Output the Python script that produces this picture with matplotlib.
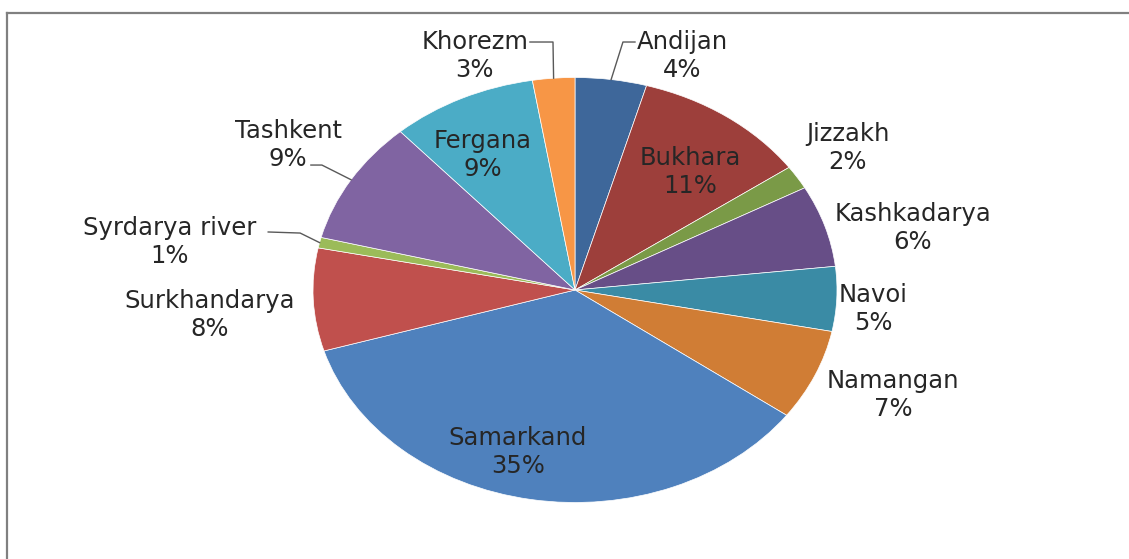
import numpy as np
import matplotlib.pyplot as plt
from matplotlib.lines import Line2D

# Дані: регіони та їх частки (%)
regions = ["Andijan", "Bukhara", "Jizzakh", "Kashkadarya", "Navoi", "Namangan",
           "Samarkand", "Surkhandarya", "Syrdarya river", "Tashkent", "Fergana", "Khorezm"]
shares = [4.4, 10.8, 1.8, 6.2, 4.9, 6.9, 35.3, 7.8, 0.8, 9.4, 9.0, 2.6]
colors = ["#3E679A", "#9D3F3B", "#7A9A47", "#674E87", "#3A8BA5", "#D07D35",
          "#4F81BD", "#C0504D", "#9BBB59", "#8064A2", "#4BACC6", "#F79646"]

# Розміщення підписів (в одиницях радіуса еліпса)
label_xy = [(0.41, 1.10), (0.44, 0.555), (1.04, 0.67), (1.29, 0.29), (1.137, -0.09),
            (1.214, -0.494), (-0.218, -0.762), (-1.393, -0.118), (-1.546, 0.226),
            (-1.095, 0.682), (-0.351, 0.635), (-0.382, 1.10)]
# Виноски: індекс сектора -> точки ламаної від тексту до краю
leaders = {0: [(0.229, 1.167), (0.183, 1.167)],
           11: [(-0.172, 1.167), (-0.084, 1.167)],
           9: [(-1.008, 0.588), (-0.966, 0.588)],
           8: [(-1.171, 0.273), (-1.049, 0.268)]}

W, H = 1129, 559
cx, cy, rx, ry = 575, 290, 262, 212.5

fig = plt.figure(figsize=(W / 100, H / 100), dpi=100)
ax = fig.add_axes([0, 0, 1, 1])

wedges, _ = ax.pie(shares, colors=colors, startangle=90, counterclock=False,
                   wedgeprops=dict(edgecolor="white", linewidth=0.5))
ax.set_aspect("auto")
ax.set_xlim(-cx / rx, (W - cx) / rx)
ax.set_ylim((cy - H) / ry, cy / ry)
ax.axis("off")

total = sum(shares)
for i, (name, v) in enumerate(zip(regions, shares)):
    x, y = label_xy[i]
    ax.text(x, y, f"{name}\n{round(v / total * 100)}%", ha="center", va="center",
            fontsize=17.5, color="#262626", linespacing=1.2)

for i, pts in leaders.items():
    w = wedges[i]
    mid = np.deg2rad((w.theta1 + w.theta2) / 2)
    xs = [p[0] for p in pts] + [np.cos(mid)]
    ys = [p[1] for p in pts] + [np.sin(mid)]
    ax.plot(xs, ys, color="#595959", lw=1)

# Рамка діаграми (верх і ліворуч)
top = 1 - 13 / H
left = 7 / W
fig.add_artist(Line2D([left, 1], [top, top], transform=fig.transFigure, color="#808080", lw=1.6))
fig.add_artist(Line2D([left, left], [0, top], transform=fig.transFigure, color="#808080", lw=1.6))

fig.savefig("out.png", dpi=100)
